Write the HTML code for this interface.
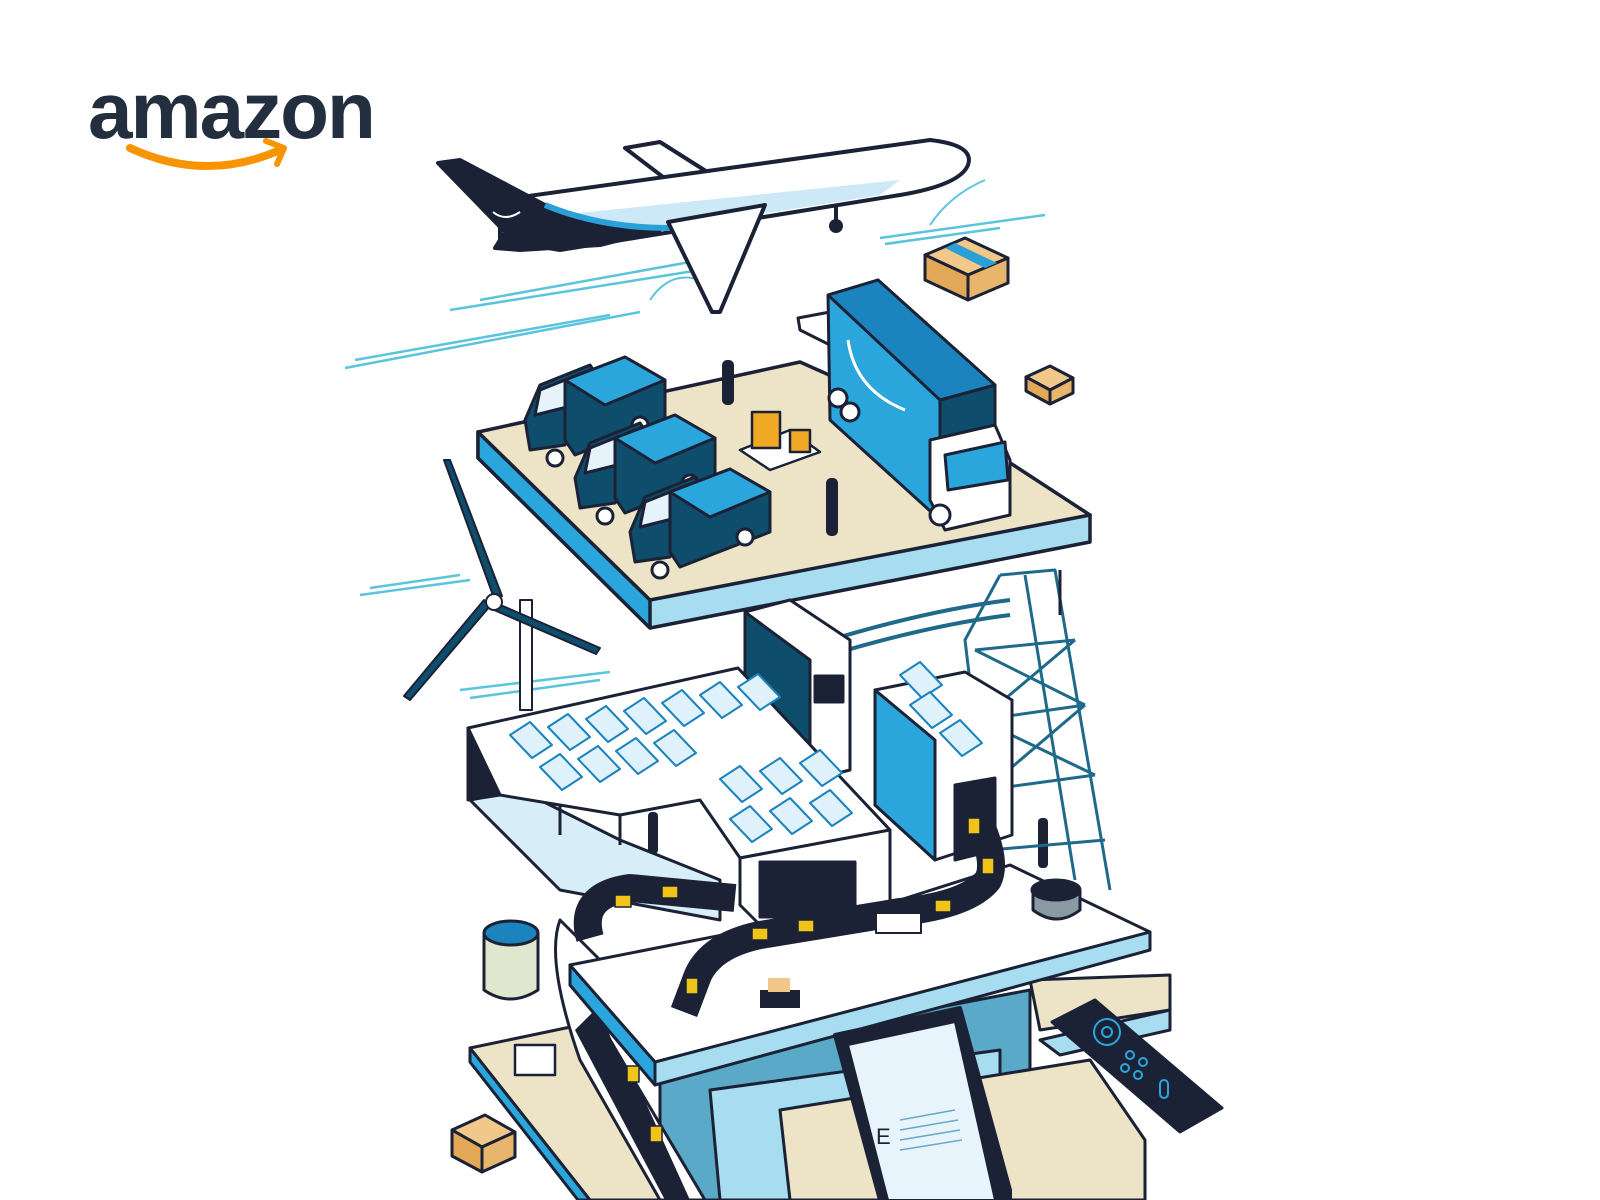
<!DOCTYPE html>
<html><head><meta charset="utf-8"><style>
html,body{margin:0;padding:0;background:#fff;width:1600px;height:1200px;overflow:hidden}
svg{display:block}
</style></head><body>
<svg width="1600" height="1200" viewBox="0 0 1600 1200" xmlns="http://www.w3.org/2000/svg" stroke-linejoin="round">
<!-- logo -->
<text x="88" y="138" font-family="Liberation Sans, sans-serif" font-weight="bold" font-size="80" fill="#232f3e" letter-spacing="-2">amazon</text>
<path d="M130 148 Q205 183 280 150" stroke="#f79400" stroke-width="8" fill="none" stroke-linecap="round"/>
<path d="M266 141 L284 148 L277 164" stroke="#f79400" stroke-width="6" fill="none" stroke-linecap="round"/>

<!-- speed lines -->
<g stroke="#5bc4dd" stroke-width="2.5">
<line x1="450" y1="310" x2="700" y2="270"/><line x1="480" y1="300" x2="690" y2="262"/>
<line x1="345" y1="368" x2="640" y2="312"/><line x1="355" y1="360" x2="610" y2="315"/>
<line x1="880" y1="238" x2="1045" y2="215"/><line x1="885" y1="244" x2="1000" y2="228"/>
<line x1="360" y1="595" x2="470" y2="580"/><line x1="370" y1="588" x2="460" y2="575"/>
<line x1="460" y1="690" x2="610" y2="672"/><line x1="470" y1="698" x2="600" y2="680"/>
</g>
<path d="M650 300 Q670 270 700 280 M930 225 Q950 195 985 180" stroke="#5bc4dd" stroke-width="2" fill="none"/>

<!-- plane -->
<g stroke="#1b2236" stroke-width="4">
<path d="M625 148 L660 142 L720 180 L680 190 Z" fill="#fff"/>
<path d="M500 200 L930 140 Q975 145 968 165 Q960 185 900 195 L560 250 L500 240 Z" fill="#fff"/>
<path d="M560 215 L900 180 L880 195 L600 240 Z" fill="#cde9f7" stroke="none"/>
<path d="M438 163 L460 160 L545 205 Q600 225 660 230 L600 245 L520 250 L495 248 L505 232 Z" fill="#1b2236"/>
<path d="M545 205 Q600 228 670 228" stroke="#2a9fd8" stroke-width="6" fill="none"/>
<path d="M668 222 L765 205 L720 312 L712 312 Z" fill="#fff"/>
<line x1="836" y1="205" x2="836" y2="222"/>
</g>
<circle cx="836" cy="226" r="7" fill="#1b2236"/>
<path d="M493 212 Q505 222 520 212" stroke="#fff" stroke-width="2" fill="none"/>

<!-- floating boxes -->
<g stroke="#1b2236" stroke-width="3">
<path d="M925 255 L965 238 L1008 258 L968 275 Z" fill="#f2c88a"/>
<path d="M925 255 L968 275 L968 300 L925 280 Z" fill="#e3a857"/>
<path d="M968 275 L1008 258 L1008 283 L968 300 Z" fill="#e8b56c"/>
<path d="M1026 377 L1050 366 L1073 378 L1050 390 Z" fill="#f2c88a"/>
<path d="M1026 377 L1050 390 L1050 404 L1026 391 Z" fill="#e3a857"/>
<path d="M1050 390 L1073 378 L1073 393 L1050 404 Z" fill="#e8b56c"/>
<path d="M452 1130 L485 1115 L515 1132 L482 1147 Z" fill="#f2c88a"/>
<path d="M452 1130 L482 1147 L482 1172 L452 1156 Z" fill="#e3a857"/>
<path d="M482 1147 L515 1132 L515 1157 L482 1172 Z" fill="#e8b56c"/>
</g>
<path d="M955 243 L997 263 L985 268 L945 248 Z" fill="#2a9fd8"/>

<!-- top platform -->
<g stroke="#1b2236" stroke-width="3.5">
<path d="M478 432 L478 458 L650 628 L1090 542 L1090 515 Z" fill="#a8dcf0"/>
<path d="M478 432 L650 600 L650 628 L478 458 Z" fill="#2aa6dc"/>
<path d="M478 432 L800 362 L975 440 L1090 515 L650 600 Z" fill="#ede3c6"/>
</g>
<path d="M798 318 L830 312 L840 350 L800 330 Z" fill="#fff" stroke="#1b2236" stroke-width="3"/>
<!-- vans -->
<g stroke="#1b2236" stroke-width="3">
<g>
<path d="M525 420 L540 385 L590 365 L600 380 L565 445 L530 450 Z" fill="#0f4d6d"/>
<path d="M540 390 L585 372 L575 405 L535 415 Z" fill="#e6f3fa"/>
<path d="M565 380 L625 357 L665 380 L665 420 L575 455 L565 440 Z" fill="#0f4d6d"/>
<path d="M565 380 L625 357 L665 380 L605 405 Z" fill="#2aa6dc"/>
<circle cx="555" cy="458" r="8" fill="#fff"/><circle cx="640" cy="425" r="8" fill="#fff"/>
</g>
<g transform="translate(50,58)">
<path d="M525 420 L540 385 L590 365 L600 380 L565 445 L530 450 Z" fill="#0f4d6d"/>
<path d="M540 390 L585 372 L575 405 L535 415 Z" fill="#e6f3fa"/>
<path d="M565 380 L625 357 L665 380 L665 420 L575 455 L565 440 Z" fill="#0f4d6d"/>
<path d="M565 380 L625 357 L665 380 L605 405 Z" fill="#2aa6dc"/>
<circle cx="555" cy="458" r="8" fill="#fff"/><circle cx="640" cy="425" r="8" fill="#fff"/>
</g>
<g transform="translate(105,112)">
<path d="M525 420 L540 385 L590 365 L600 380 L565 445 L530 450 Z" fill="#0f4d6d"/>
<path d="M540 390 L585 372 L575 405 L535 415 Z" fill="#e6f3fa"/>
<path d="M565 380 L625 357 L665 380 L665 420 L575 455 L565 440 Z" fill="#0f4d6d"/>
<path d="M565 380 L625 357 L665 380 L605 405 Z" fill="#2aa6dc"/>
<circle cx="555" cy="458" r="8" fill="#fff"/><circle cx="640" cy="425" r="8" fill="#fff"/>
</g>
</g>
<!-- truck -->
<g stroke="#1b2236" stroke-width="3">
<path d="M828 295 L878 280 L995 385 L995 505 L940 520 L830 420 Z" fill="#2aa6dc"/>
<path d="M940 400 L995 385 L995 505 L940 520 Z" fill="#0f4d6d"/>
<path d="M828 295 L878 280 L995 385 L940 400 Z" fill="#1b84bf"/>
<path d="M930 440 L995 425 L1010 460 L1010 515 L945 530 L930 500 Z" fill="#fff"/>
<path d="M945 455 L1005 442 L1008 480 L948 490 Z" fill="#2aa6dc"/>
<circle cx="838" cy="398" r="9" fill="#fff"/><circle cx="850" cy="412" r="9" fill="#fff"/><circle cx="940" cy="515" r="10" fill="#fff"/>
</g>
<path d="M848 340 Q855 390 905 410" stroke="#fff" stroke-width="3" fill="none"/>
<g stroke="#1b2236" stroke-width="2.5">
<path d="M740 450 L790 430 L820 452 L770 470 Z" fill="#fff"/>
<rect x="752" y="412" width="28" height="36" fill="#f0a825"/>
<rect x="790" y="430" width="20" height="22" fill="#f0a825"/>
</g>
<!-- people -->
<g fill="#1b2236">
<rect x="722" y="360" width="12" height="45" rx="5"/><rect x="826" y="478" width="12" height="58" rx="5"/>
<rect x="566" y="826" width="10" height="42" rx="4"/><rect x="648" y="812" width="10" height="42" rx="4"/>
<rect x="1038" y="818" width="10" height="50" rx="4"/><rect x="1007" y="916" width="10" height="40" rx="4"/>
<rect x="902" y="918" width="10" height="48" rx="4"/><rect x="816" y="956" width="10" height="46" rx="4"/>
<rect x="615" y="962" width="10" height="44" rx="4"/><rect x="537" y="1050" width="10" height="40" rx="4"/>
<rect x="578" y="1097" width="10" height="40" rx="4"/><rect x="1062" y="1090" width="10" height="42" rx="4"/>
<rect x="828" y="1145" width="10" height="42" rx="4"/>
</g>

<!-- wind turbine -->
<g fill="#0f4d6d" stroke="#1b2236" stroke-width="2">
<rect x="520" y="600" width="12" height="110" fill="#fff"/>
<path d="M494 598 L444 460 L450 460 L502 596 Z"/>
<path d="M498 604 L600 648 L596 654 L494 610 Z"/>
<path d="M490 606 L410 700 L404 696 L484 600 Z"/>
<circle cx="494" cy="602" r="8" fill="#fff"/>
</g>

<!-- tower -->
<g stroke="#1f6a8a" stroke-width="3" fill="none">
<path d="M1000 575 L1055 570 L1110 890 M1000 575 L965 640 L990 850 M1025 575 L1075 880"/>
<path d="M975 650 L1075 640 M980 720 L1085 705 M985 790 L1095 775 M990 850 L1105 840"/>
<path d="M975 650 L1085 705 M1075 640 L980 720 M980 720 L1095 775 M1085 705 L985 790"/>
<path d="M830 640 Q930 610 1010 600 M830 655 Q930 625 1010 615" stroke-width="4"/>
</g>
<line x1="1060" y1="570" x2="1060" y2="615" stroke="#1b2236" stroke-width="3"/>

<!-- middle buildings -->
<g stroke="#1b2236" stroke-width="3">
<path d="M745 612 L790 600 L850 640 L850 770 L810 780 L745 700 Z" fill="#fff"/>
<path d="M745 612 L810 660 L810 780 L745 720 Z" fill="#0f4d6d"/>
<rect x="815" y="676" width="28" height="26" fill="#1b2236"/>
<!-- floor under roof -->
<path d="M470 800 L560 890 L720 920 L720 880 L620 840 L520 790 Z" fill="#d7eef8"/>
<!-- roof -->
<path d="M468 728 L738 668 L890 830 L740 858 L700 800 L620 815 L500 795 Z" fill="#fff"/>
<path d="M468 728 L500 795 L468 800 Z" fill="#1b2236"/>
<line x1="620" y1="815" x2="620" y2="845"/><line x1="560" y1="805" x2="560" y2="835"/>
<!-- front block -->
<path d="M740 858 L890 830 L890 905 L760 925 L740 905 Z" fill="#fff"/>
<rect x="760" y="862" width="95" height="55" fill="#1b2236"/>
<!-- solar building right -->
<path d="M875 690 L965 672 L1012 700 L1012 835 L935 860 L875 805 Z" fill="#fff"/>
<path d="M875 690 L935 740 L935 860 L875 805 Z" fill="#2aa6dc"/>
<path d="M955 785 L995 778 L995 850 L955 860 Z" fill="#1b2236"/>
</g>
<g fill="#dff1fb" stroke="#1b84bf" stroke-width="2">
<g id="sp"><path d="M510 735 L530 722 L552 745 L532 758 Z"/></g>
<use href="#sp" x="38" y="-8"/><use href="#sp" x="76" y="-16"/><use href="#sp" x="114" y="-24"/><use href="#sp" x="152" y="-32"/><use href="#sp" x="190" y="-40"/><use href="#sp" x="228" y="-48"/>
<use href="#sp" x="30" y="32"/><use href="#sp" x="68" y="24"/><use href="#sp" x="106" y="16"/><use href="#sp" x="144" y="8"/>
<use href="#sp" x="210" y="44"/><use href="#sp" x="250" y="36"/><use href="#sp" x="290" y="28"/>
<use href="#sp" x="220" y="84"/><use href="#sp" x="260" y="76"/><use href="#sp" x="300" y="68"/>
<use href="#sp" x="390" y="-60"/><use href="#sp" x="400" y="-30"/><use href="#sp" x="430" y="-2"/>
</g>

<!-- bottom beige platform -->
<g stroke="#1b2236" stroke-width="3">
<path d="M470 1048 L580 1025 L700 1200 L590 1200 Z" fill="#ede3c6"/>
<path d="M470 1048 L470 1062 L578 1200 L590 1200 Z" fill="#2aa6dc"/>
<path d="M1030 980 L1170 975 L1170 1010 L1040 1030 Z" fill="#ede3c6"/>
<path d="M1040 1040 L1170 1010 L1170 1030 L1060 1055 Z" fill="#a8dcf0"/>
<path d="M660 1060 L1030 990 L1030 1200 L660 1200 Z" fill="#5aa9c9"/>
<path d="M710 1090 L1000 1050 L1000 1200 L720 1200 Z" fill="#a8dcf0"/>
<path d="M780 1110 L1090 1060 L1145 1140 L1145 1200 L790 1200 Z" fill="#ede3c6"/>
</g>
<path d="M560 920 Q545 960 580 1060 L660 1200 L705 1200 L610 1040 Q590 990 600 960 Z" fill="#fff" stroke="#1b2236" stroke-width="3"/>
<path d="M595 1010 L640 1090 L690 1200 L665 1200 L575 1030 Z" fill="#1b2236"/>

<!-- lower white platform -->
<g stroke="#1b2236" stroke-width="3">
<path d="M570 965 L570 985 L655 1085 L1150 950 L1150 932 Z" fill="#a8dcf0"/>
<path d="M570 965 L655 1062 L655 1085 L570 985 Z" fill="#2aa6dc"/>
<path d="M570 965 L900 900 L1010 865 L1150 932 L655 1062 Z" fill="#fff"/>
</g>
<!-- conveyor belts -->
<g stroke="#1b2236" stroke-width="28" fill="none" stroke-linecap="butt">
<path d="M590 938 Q578 895 630 888 L735 898"/>
<path d="M975 812 Q998 860 988 880 Q968 905 900 912 L760 935 Q712 945 698 975 L684 1012"/>
</g>
<g fill="#f0c419" stroke="#1b2236" stroke-width="1.5">
<rect x="615" y="895" width="16" height="12"/><rect x="662" y="886" width="16" height="12"/>
<rect x="752" y="928" width="16" height="12"/><rect x="798" y="920" width="16" height="12"/>
<rect x="935" y="900" width="16" height="12"/><rect x="982" y="858" width="12" height="16"/>
<rect x="968" y="818" width="12" height="16"/><rect x="686" y="978" width="12" height="16"/>
<rect x="627" y="1066" width="12" height="16"/><rect x="650" y="1126" width="12" height="16"/>
</g>
<rect x="760" y="990" width="40" height="18" fill="#1b2236"/><rect x="768" y="978" width="22" height="14" fill="#f2c88a"/>
<!-- echo devices -->
<g stroke="#1b2236" stroke-width="3">
<path d="M484 933 L484 990 Q510 1008 538 990 L538 933 Z" fill="#dfe7cf"/>
<ellipse cx="511" cy="933" rx="27" ry="12" fill="#1b84bf"/>
<path d="M1033 890 L1033 910 Q1057 928 1080 910 L1080 890 Z" fill="#8a9aa5"/>
<ellipse cx="1056" cy="890" rx="24" ry="10" fill="#1b2236"/>
</g>
<rect x="876" y="913" width="45" height="20" fill="#fff" stroke="#1b2236" stroke-width="2"/>
<!-- tablet -->
<g stroke="#1b2236" stroke-width="4">
<path d="M835 1035 L960 1008 L1010 1190 L1010 1200 L880 1200 Z" fill="#1b2236"/>
<path d="M848 1045 L955 1022 L995 1200 L888 1200 Z" fill="#e8f4fb" stroke-width="2"/>
</g>
<text x="876" y="1144" font-family="Liberation Sans, sans-serif" font-size="22" fill="#1b2236">E</text>
<g stroke="#6aa8c8" stroke-width="1.5"><line x1="900" y1="1120" x2="955" y2="1110"/><line x1="900" y1="1130" x2="958" y2="1120"/><line x1="900" y1="1140" x2="960" y2="1130"/><line x1="900" y1="1150" x2="962" y2="1140"/></g>
<!-- remote -->
<path d="M1052 1022 L1095 1000 L1222 1108 L1180 1132 Z" fill="#1b2236" stroke="#1b2236" stroke-width="3"/>
<g stroke="#2aa6dc" stroke-width="2" fill="none">
<circle cx="1107" cy="1032" r="13"/><circle cx="1107" cy="1032" r="5"/>
<circle cx="1130" cy="1055" r="4"/><circle cx="1143" cy="1062" r="4"/><circle cx="1125" cy="1068" r="4"/><circle cx="1138" cy="1075" r="4"/>
<rect x="1160" y="1080" width="8" height="18" rx="4"/>
</g>
<rect x="515" y="1045" width="40" height="30" fill="#fff" stroke="#1b2236" stroke-width="2.5"/>
</svg>
</body></html>
